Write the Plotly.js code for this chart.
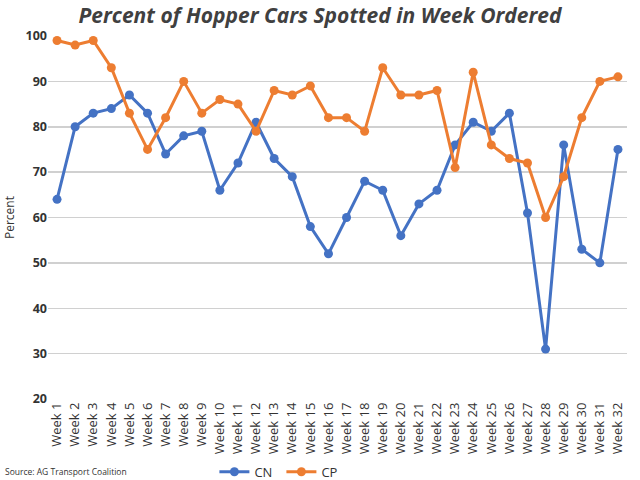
<!DOCTYPE html>
<html>
<head>
<meta charset="utf-8">
<script src="https://cdn.plot.ly/plotly-3.0.1.min.js"></script>
<style>html,body{margin:0;padding:0;background:#fff;}#chart{width:640px;height:480px;}</style>
</head>
<body>
<div id="chart"></div>
<script>
var weeks = ["Week 1","Week 2","Week 3","Week 4","Week 5","Week 6","Week 7","Week 8","Week 9","Week 10","Week 11","Week 12","Week 13","Week 14","Week 15","Week 16","Week 17","Week 18","Week 19","Week 20","Week 21","Week 22","Week 23","Week 24","Week 25","Week 26","Week 27","Week 28","Week 29","Week 30","Week 31","Week 32"];
var cn = [64,80,83,84,87,83,74,78,79,66,72,81,73,69,58,52,60,68,66,56,63,66,76,81,79,83,61,31,76,53,50,75];
var cp = [99,98,99,93,83,75,82,90,83,86,85,79,88,87,89,82,82,79,93,87,87,88,71,92,76,73,72,60,69,82,90,91];
var yTicks = [20,30,40,50,60,70,80,90,100];

var FONT = "Open Sans, Lato, sans-serif";
var traces = [
  {x: weeks, y: cn, name: "CN", type: "scatter", mode: "lines+markers",
   line: {color: "#4472C4", width: 3}, marker: {color: "#4472C4", size: 9}},
  {x: weeks, y: cp, name: "CP", type: "scatter", mode: "lines+markers",
   line: {color: "#ED7D31", width: 3}, marker: {color: "#ED7D31", size: 9}}
];
var layout = {
  width: 640, height: 480,
  margin: {l: 48, r: 13, t: 36, b: 81},
  paper_bgcolor: "#fff", plot_bgcolor: "#fff",
  font: {family: FONT, color: "#333"},
  title: {text: "<b><i>Percent of Hopper Cars Spotted in Week Ordered</i></b>",
          font: {family: FONT, size: 21, color: "#404040"}, x: 0.5, xanchor: "center", y: 0.968, yanchor: "middle"},
  xaxis: {type: "category", range: [-0.5, 31.5], tickangle: -90, showgrid: false, zeroline: false,
          showline: false, ticks: "", tickfont: {family: FONT, size: 13, color: "#333"}, automargin: false},
  yaxis: {range: [20, 100], tickvals: yTicks, ticktext: yTicks.map(function(v){return "<b>"+v+"</b>";}),
          showgrid: true, gridcolor: "#d0d0d0", gridwidth: 1.5, zeroline: false, showline: false, ticks: "",
          tickfont: {family: FONT, size: 12.5, color: "#333"}, automargin: false,
          title: {text: "Percent", font: {family: FONT, size: 12, color: "#333"}, standoff: 8}},
  showlegend: true,
  legend: {orientation: "h", xref: "container", yref: "container", x: 0.335, xanchor: "left",
           y: 0.017, yanchor: "middle",
           font: {family: FONT, size: 13, color: "#333"}, entrywidth: 22, entrywidthmode: "pixels",
           itemwidth: 30, bgcolor: "rgba(0,0,0,0)"},
  annotations: [{text: "Source: AG Transport Coalition", xref: "paper", yref: "paper",
                 x: -0.078, xanchor: "left", y: -0.2, yanchor: "middle", showarrow: false,
                 font: {family: FONT, size: 8.5, color: "#333"}}]
};
Plotly.newPlot("chart", traces, layout, {displayModeBar: false, staticPlot: true});
</script>
</body>
</html>
